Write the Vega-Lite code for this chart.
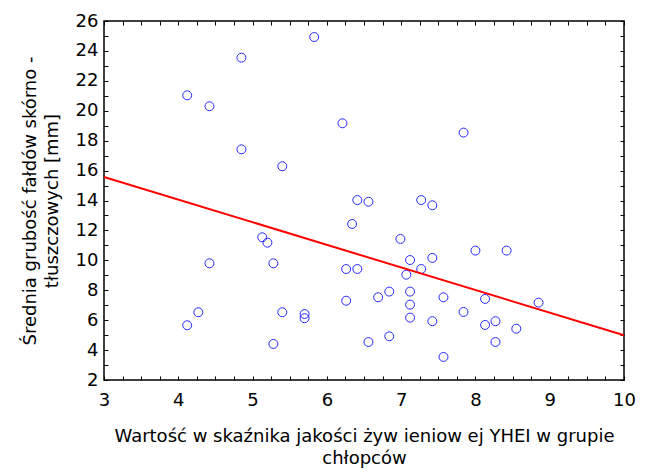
{
  "$schema": "https://vega.github.io/schema/vega-lite/v6.json",
  "width": 520,
  "height": 359,
  "autosize": {"type": "none"},
  "padding": {"left": 104, "top": 21, "right": 22, "bottom": 95},
  "background": "white",
  "config": {
    "font": "DejaVu Sans",
    "view": {"stroke": "black", "strokeWidth": 1.5},
    "axis": {
      "domain": false,
      "grid": false,
      "tickColor": "black",
      "tickSize": -4,
      "tickWidth": 1,
      "labelColor": "black",
      "labelFont": "DejaVu Sans",
      "labelFontSize": 18,
      "labelOverlap": false,
      "labelFlush": false,
      "titleFont": "DejaVu Sans",
      "titleFontSize": 18,
      "titleFontWeight": "normal",
      "titleColor": "black"
    }
  },
  "datasets": {
    "pts": [
      {"x": 4.12, "y": 21.03}, {"x": 4.42, "y": 20.3}, {"x": 4.85, "y": 23.55}, {"x": 5.83, "y": 24.93},
      {"x": 4.85, "y": 17.42}, {"x": 5.40, "y": 16.29}, {"x": 6.21, "y": 19.16}, {"x": 7.84, "y": 18.54},
      {"x": 6.41, "y": 14.03}, {"x": 6.56, "y": 13.92}, {"x": 7.27, "y": 14.03}, {"x": 7.42, "y": 13.68},
      {"x": 6.34, "y": 12.43}, {"x": 5.13, "y": 11.54}, {"x": 5.20, "y": 11.18}, {"x": 4.42, "y": 9.8},
      {"x": 5.28, "y": 9.8}, {"x": 4.27, "y": 6.53}, {"x": 4.12, "y": 5.66}, {"x": 5.40, "y": 6.53},
      {"x": 5.70, "y": 6.41}, {"x": 5.70, "y": 6.13}, {"x": 5.28, "y": 4.41}, {"x": 6.99, "y": 11.43},
      {"x": 8.00, "y": 10.65}, {"x": 8.42, "y": 10.65}, {"x": 7.42, "y": 10.16}, {"x": 7.12, "y": 10.02},
      {"x": 6.26, "y": 9.42}, {"x": 6.41, "y": 9.42}, {"x": 7.27, "y": 9.42}, {"x": 7.07, "y": 9.04},
      {"x": 6.84, "y": 7.91}, {"x": 7.12, "y": 7.91}, {"x": 6.26, "y": 7.30}, {"x": 6.69, "y": 7.53},
      {"x": 7.57, "y": 7.53}, {"x": 8.13, "y": 7.42}, {"x": 8.85, "y": 7.17}, {"x": 7.12, "y": 7.04},
      {"x": 7.84, "y": 6.55}, {"x": 7.12, "y": 6.17}, {"x": 7.42, "y": 5.93}, {"x": 8.27, "y": 5.93},
      {"x": 8.13, "y": 5.68}, {"x": 8.55, "y": 5.43}, {"x": 6.56, "y": 4.54}, {"x": 6.84, "y": 4.92},
      {"x": 8.27, "y": 4.54}, {"x": 7.57, "y": 3.54}
    ],
    "fit": [
      {"x": 3, "y": 15.57},
      {"x": 10, "y": 4.99}
    ]
  },
  "layer": [
    {
      "data": {"name": "pts"},
      "mark": {"type": "point", "shape": "circle", "filled": false, "color": "#2828ff", "size": 80, "strokeWidth": 1, "opacity": 1},
      "encoding": {
        "x": {
          "field": "x", "type": "quantitative",
          "scale": {"domain": [3, 10], "nice": false, "zero": false},
          "axis": {
            "orient": "bottom",
            "values": [3, 3.25, 3.5, 3.75, 4, 4.25, 4.5, 4.75, 5, 5.25, 5.5, 5.75, 6, 6.25, 6.5, 6.75, 7, 7.25, 7.5, 7.75, 8, 8.25, 8.5, 8.75, 9, 9.25, 9.5, 9.75, 10],
            "format": "~g",
            "labelExpr": "datum.value % 1 === 0 ? datum.label : ''",
            "labelPadding": 15,
            "title": ["Wartość w skaźnika jakości żyw ieniow ej YHEI w  grupie", "chłopców"],
            "titlePadding": 18,
            "titleLineHeight": 22
          }
        },
        "y": {
          "field": "y", "type": "quantitative",
          "scale": {"domain": [2, 26], "nice": false, "zero": false},
          "axis": {
            "orient": "left",
            "values": [2, 3, 4, 5, 6, 7, 8, 9, 10, 11, 12, 13, 14, 15, 16, 17, 18, 19, 20, 21, 22, 23, 24, 25, 26],
            "format": "~g",
            "labelExpr": "datum.value % 2 === 0 ? datum.label : ''",
            "labelPadding": 10,
            "title": ["Średnia grubość fałdów skórno -", "tłuszczowych [mm]"],
            "titlePadding": 14,
            "titleLineHeight": 22
          }
        }
      }
    },
    {
      "data": {"name": "fit"},
      "mark": {"type": "line", "color": "#ff0000", "strokeWidth": 2},
      "encoding": {
        "x": {
          "field": "x", "type": "quantitative",
          "axis": {
            "orient": "top",
            "values": [3, 3.25, 3.5, 3.75, 4, 4.25, 4.5, 4.75, 5, 5.25, 5.5, 5.75, 6, 6.25, 6.5, 6.75, 7, 7.25, 7.5, 7.75, 8, 8.25, 8.5, 8.75, 9, 9.25, 9.5, 9.75, 10],
            "labels": false,
            "title": null
          }
        },
        "y": {
          "field": "y", "type": "quantitative",
          "axis": {
            "orient": "right",
            "values": [2, 3, 4, 5, 6, 7, 8, 9, 10, 11, 12, 13, 14, 15, 16, 17, 18, 19, 20, 21, 22, 23, 24, 25, 26],
            "labels": false,
            "title": null
          }
        }
      }
    }
  ],
  "resolve": {"axis": {"x": "independent", "y": "independent"}}
}
